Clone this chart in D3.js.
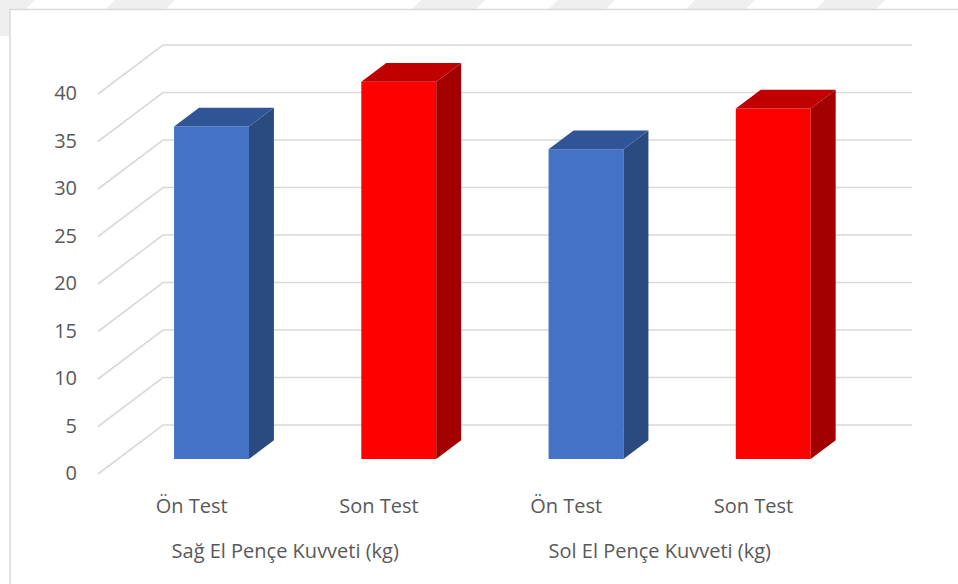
<!DOCTYPE html>
<html>
<head>
<meta charset="utf-8">
<script src="https://cdn.jsdelivr.net/npm/d3@7"></script>
<style>
  html, body { margin: 0; padding: 0; background: #ffffff; }
  svg { display: block; }
</style>
</head>
<body>
<svg id="chart" width="958" height="584"></svg>
<script>
// ---- data ----
const categories = ["Ön Test", "Son Test", "Ön Test", "Son Test"];
const groups = ["Sağ El Pençe Kuvveti (kg)", "Sol El Pençe Kuvveti (kg)"];
const values = [35.0, 39.7, 32.6, 36.9];
const seriesKind = ["on", "son", "on", "son"];
const yTicks = [0, 5, 10, 15, 20, 25, 30, 35, 40];

// ---- styling ----
const palette = {
  on:  { front: "#4472C4", top: "#2F5597", side: "#2B4A80" },
  son: { front: "#FF0000", top: "#C00000", side: "#A30000" }
};
const gridColor = "#d9d9d9";
const textColor = "#595959";
const font = "'Open Sans', 'Liberation Sans', sans-serif";

const svg = d3.select("#chart");

// faint background watermark (partially covered by the chart)
const wm = svg.append("g").attr("fill", "#efefef");
[[0, 27], [107, 167], [413, 477], [550, 607], [687, 747], [817, 877]].forEach(([a, b]) => {
  wm.append("polygon").attr("points", `${a+8},0 ${b+8},0 ${b-4},12 ${a-4},12`);
});
wm.append("polygon").attr("points", "0,0 27,0 10,36 0,36");

// chart area
svg.append("rect").attr("x", 10).attr("y", 9.5).attr("width", 960).attr("height", 590)
  .attr("fill", "#ffffff").attr("stroke", gridColor).attr("stroke-width", 1.5);

// ---- 3D geometry (oblique projection) ----
const depth = { dx: 65, dy: -49 };       // full depth of the floor
const y = d3.scaleLinear().domain([0, 40]).range([474, 94]);   // front plane
const x = d3.scaleBand().domain(d3.range(categories.length))
  .range([98, 847]).paddingInner(0.6).paddingOuter(0.3);
const f0 = 0.306, f1 = 0.69;             // bar front / back depth fractions

const proj = (px, py, f) => [px + depth.dx * f, py + depth.dy * f];

// grid: side wall diagonals + back wall horizontals
const grid = svg.append("g").attr("stroke", gridColor).attr("stroke-width", 1.6).attr("fill", "none");
const xL = x.range()[0], xR = x.range()[1];
yTicks.forEach(t => {
  const a = proj(xL, y(t), 0), b = proj(xL, y(t), 1), c = proj(xR, y(t), 1);
  grid.append("polyline").attr("points", [a, b, c].map(p => p.join(",")).join(" "));
});

// y tick labels
svg.append("g").selectAll("text").data(yTicks).join("text")
  .attr("x", 77).attr("y", d => y(d) + 1)
  .attr("text-anchor", "end").attr("dominant-baseline", "middle")
  .attr("font-family", font).attr("font-size", 20).attr("fill", textColor)
  .text(d => d);

// bars
const bars = svg.append("g");
values.forEach((v, i) => {
  const col = palette[seriesKind[i]];
  const x0 = x(i), x1 = x(i) + x.bandwidth();
  const yt = y(v), yb = y(0);
  const P = (px, py, f) => proj(px, py, f).join(",");
  // front
  bars.append("polygon").attr("fill", col.front)
    .attr("points", [P(x0, yb, f0), P(x1, yb, f0), P(x1, yt, f0), P(x0, yt, f0)].join(" "));
  // side
  bars.append("polygon").attr("fill", col.side)
    .attr("points", [P(x1, yb, f0), P(x1, yb, f1), P(x1, yt, f1), P(x1, yt, f0)].join(" "));
  // top
  bars.append("polygon").attr("fill", col.top)
    .attr("points", [P(x0, yt, f0), P(x1, yt, f0), P(x1, yt, f1), P(x0, yt, f1)].join(" "));
});

// category labels
svg.append("g").selectAll("text").data(categories).join("text")
  .attr("x", (d, i) => x(i) + x.bandwidth() / 2)
  .attr("y", 512.5)
  .attr("text-anchor", "middle")
  .attr("font-family", font).attr("font-size", 20).attr("fill", textColor)
  .text(d => d);

// group labels
const step = x.step();
svg.append("g").selectAll("text").data(groups).join("text")
  .attr("x", (d, i) => xL + step * (2 * i + 1))
  .attr("y", 558)
  .attr("text-anchor", "middle")
  .attr("font-family", font).attr("font-size", 20).attr("fill", textColor)
  .text(d => d);
</script>
</body>
</html>
